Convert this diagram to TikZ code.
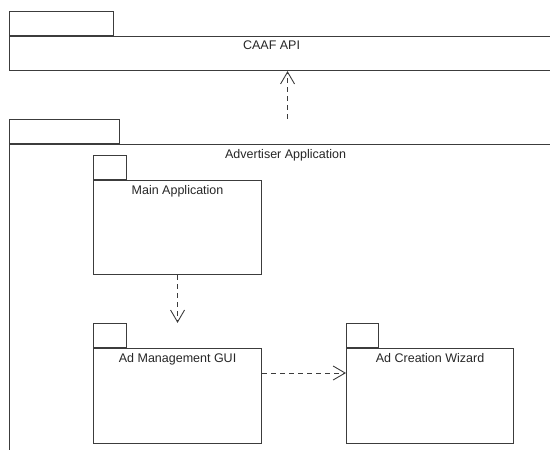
\documentclass[tikz,border=0pt]{standalone}
\usepackage{fontspec}
\setmainfont{Liberation Sans}
\usetikzlibrary{arrows.meta,positioning}
\definecolor{pkgline}{HTML}{3C3C3C}
\tikzset{
	pkgbody/.style={draw=pkgline,line width=1.1pt,rectangle,inner sep=0pt},
	pkgtab/.style={draw=pkgline,line width=1.1pt,rectangle,inner sep=0pt,minimum height=24pt,anchor=south west},
	pkgtitle/.style={anchor=north,inner sep=0pt,yshift=-5pt,font=\fontsize{12.5}{14}\selectfont,text=black!85},
	dep/.style={draw=pkgline,line width=0.9pt,dash pattern=on 5pt off 4pt,-{Straight Barb[length=12pt,width=14pt]}}
}
\begin{document}
\begin{tikzpicture}[x=1pt,y=-1pt]
	\useasboundingbox (0,0) rectangle (550,450);
	\clip (0,0) rectangle (550,450);
	% outer packages
	\node[pkgbody,minimum width=556pt,minimum height=34pt,anchor=north west] (caaf) at (9,36) {};
	\node[pkgtab,minimum width=104pt] (caaftab) at (caaf.north west) {};
	\node[pkgtitle,xshift=-16pt] at (caaf.north) {CAAF API};
	\node[pkgbody,minimum width=556pt,minimum height=340pt,anchor=north west] (adv) at (9,144) {};
	\node[pkgtab,minimum width=110pt] (advtab) at (adv.north west) {};
	\node[pkgtitle,xshift=-2pt] at (adv.north) {Advertiser Application};
	% inner packages
	\node[pkgbody,minimum width=168pt,minimum height=94pt,anchor=north west] (main) at (93,180) {};
	\node[pkgtab,minimum width=33pt] (maintab) at (main.north west) {};
	\node[pkgtitle] at (main.north) {Main Application};
	\node[pkgbody,minimum width=168pt,minimum height=95pt,anchor=north west] (gui) at (93,348) {};
	\node[pkgtab,minimum width=33pt] (guitab) at (gui.north west) {};
	\node[pkgtitle] at (gui.north) {Ad Management GUI};
	\node[pkgbody,minimum width=167pt,minimum height=95pt,anchor=north west] (wizard) at (346,348) {};
	\node[pkgtab,minimum width=32pt] (wizardtab) at (wizard.north west) {};
	\node[pkgtitle] at (wizard.north) {Ad Creation Wizard};
	% dependencies
	\draw[dep] (adv.north |- advtab.north) -- (caaf.south);
	\draw[dep] (main.south) -- (gui.north |- guitab.north);
	\draw[dep] (gui.east |- 0,373) -- (wizard.west |- 0,373);
\end{tikzpicture}
\end{document}
